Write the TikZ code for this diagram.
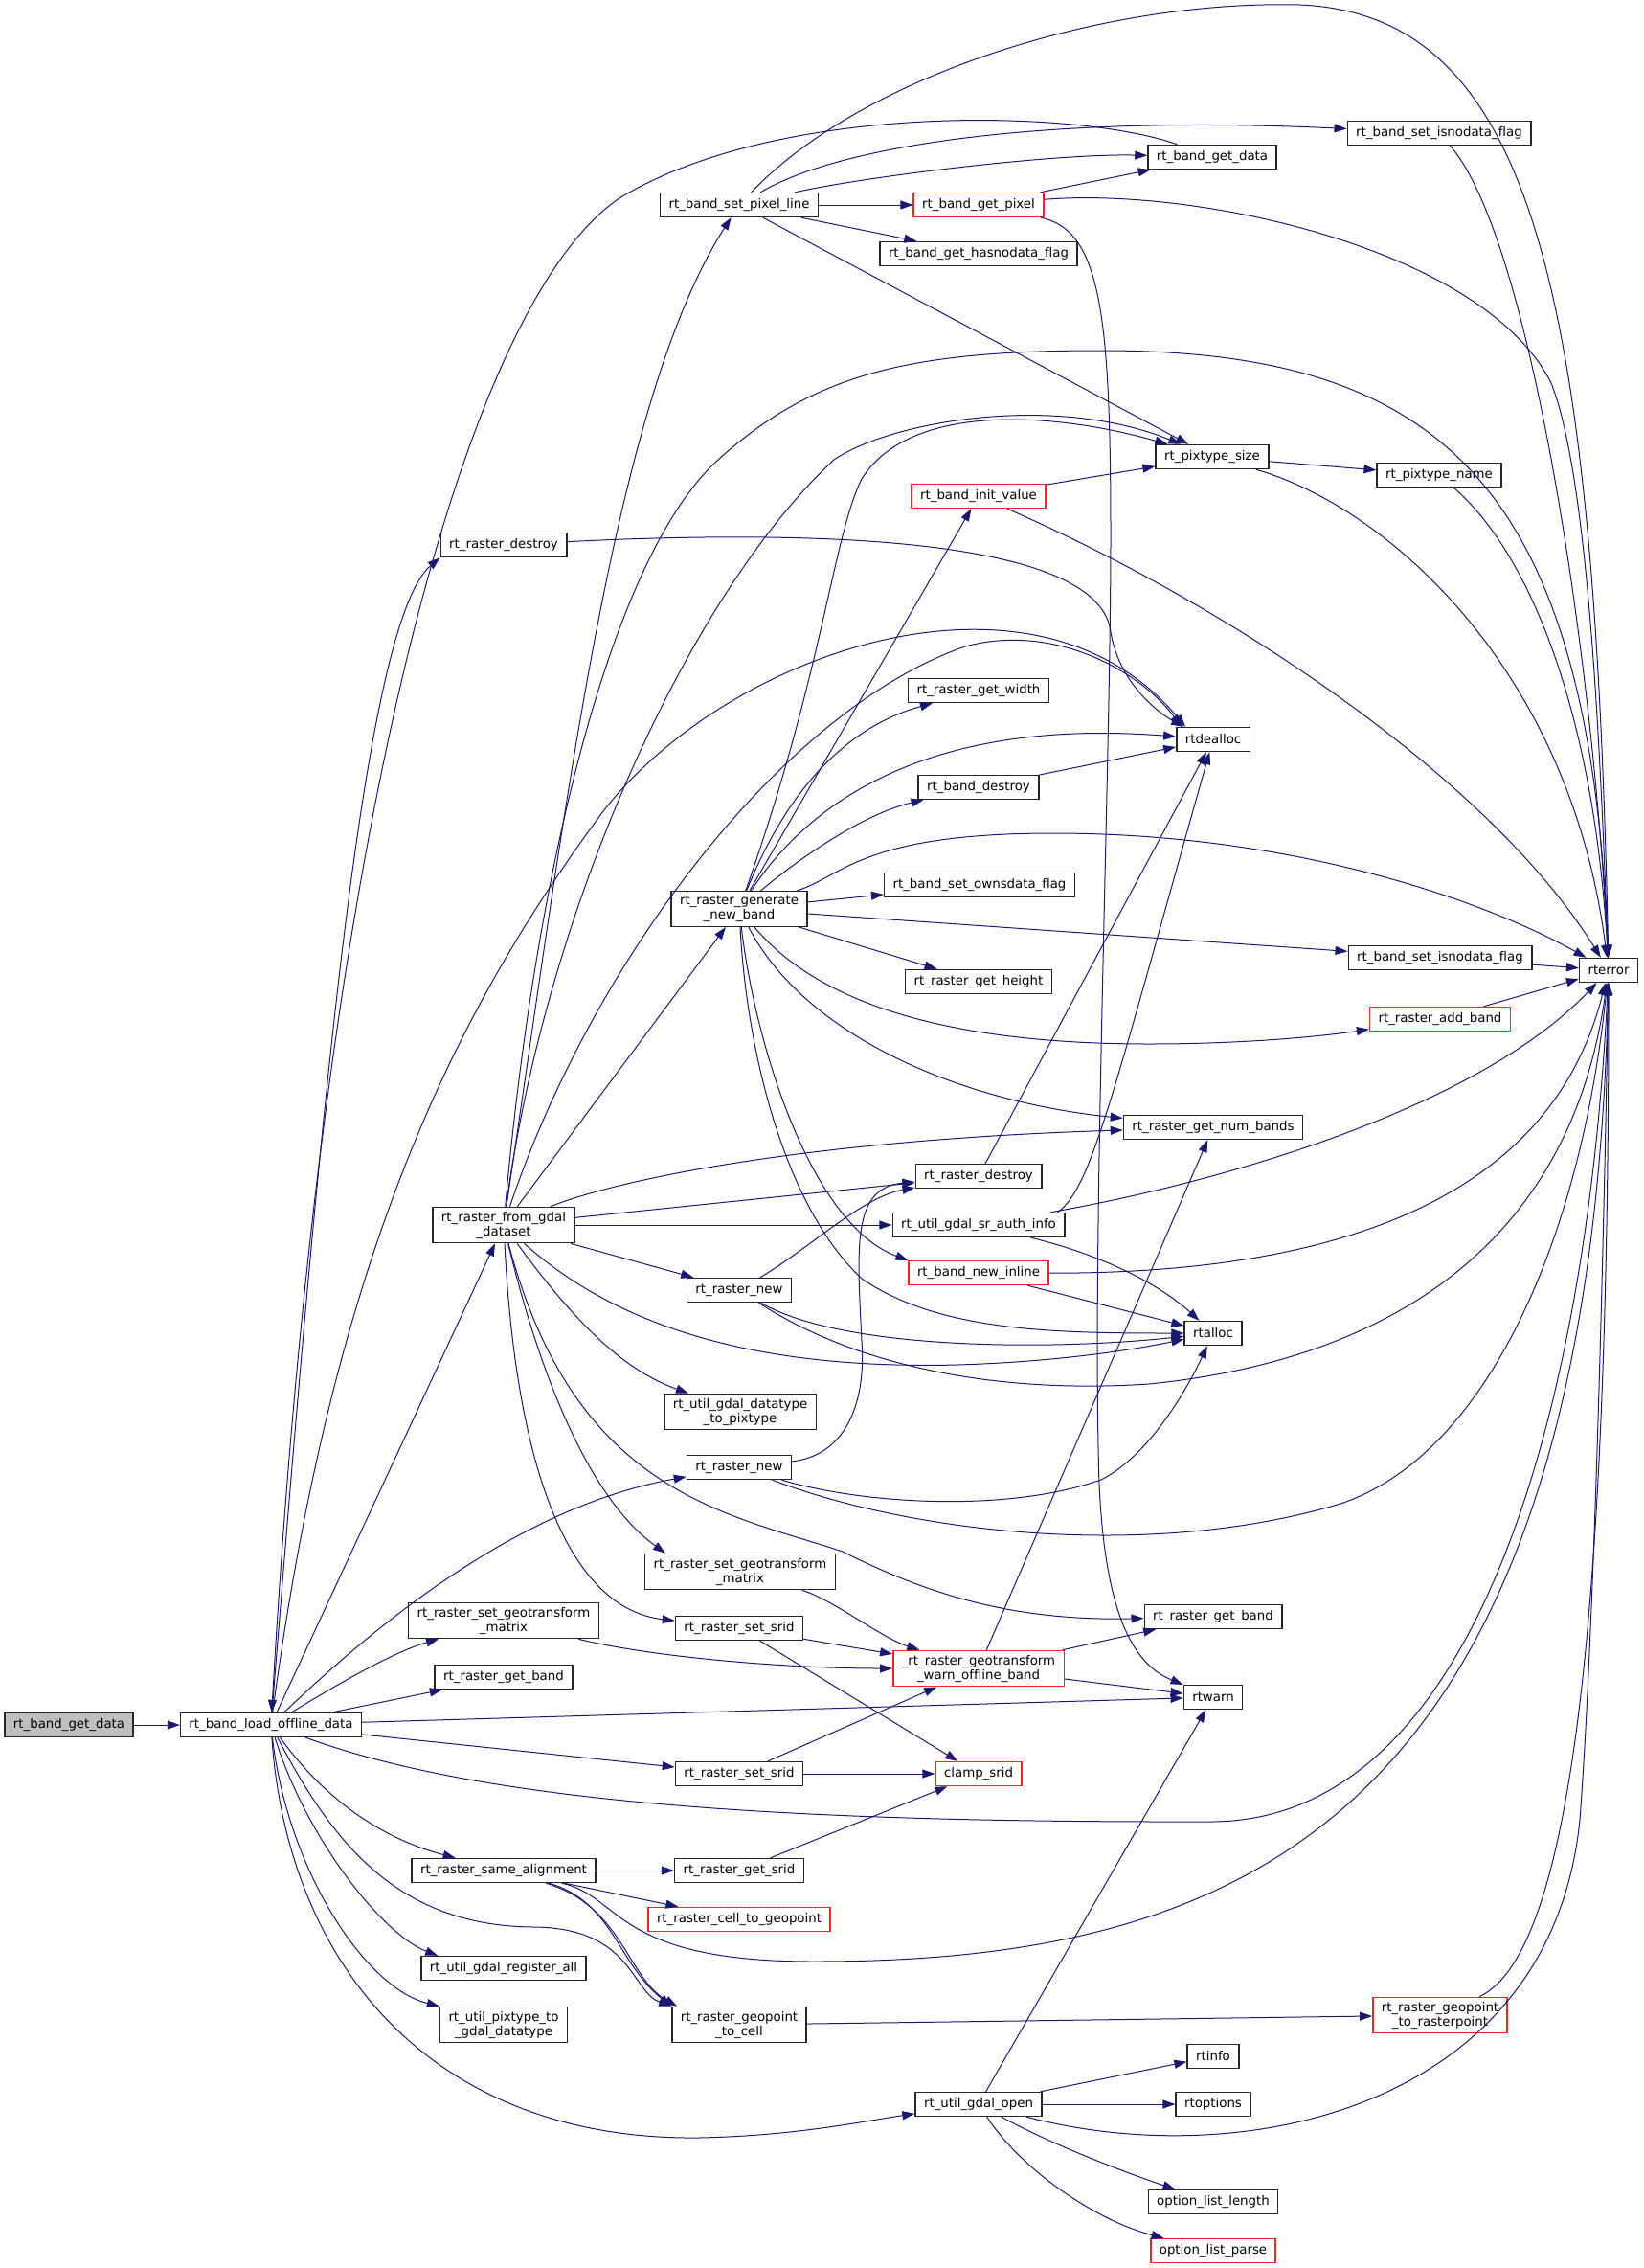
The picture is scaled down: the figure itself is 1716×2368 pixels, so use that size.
\documentclass[tikz,border=0pt]{standalone}
\usepackage{fontspec}
\setmainfont{DejaVu Sans}[Ligatures=NoCommon]
\usepackage{tikz}
\usetikzlibrary{arrows.meta,positioning}
\definecolor{edgeblue}{HTML}{191970}
\definecolor{nodered}{HTML}{FF2020}

\begin{document}
\begin{tikzpicture}[x=1pt,y=-1pt,
  fn/.style={draw=black!85, line width=1.4pt, fill=white, font=\fontsize{13.33}{15}\selectfont, minimum height=25pt, inner xsep=9pt, inner ysep=4.5pt, align=center},
  fnred/.style={fn, draw=nodered},
  fnroot/.style={fn, fill=black!25},
  call/.style={draw=edgeblue, line width=1pt, -{Triangle[length=13pt,width=9pt]}}]
\fill[white] (0,0) rectangle (1716,2368);
\useasboundingbox (0,0) rectangle (1716,2368);

\node (gd) at (72,1801) [fnroot] {rt\_band\_get\_data};
\node (lod) at (283,1801) [fn] {rt\_band\_load\_offline\_data};

\node (rdT) at (526,569) [fn] {rt\_raster\_destroy};
\node (fg) at (526,1279) [fn] {rt\_raster\_from\_gdal\\\_dataset};
\node (sgb) at (526,1692) [fn] {rt\_raster\_set\_geotransform\\\_matrix};
\node (gbA) at (526,1751) [fn] {rt\_raster\_get\_band};
\node (sa) at (526,1953) [fn] {rt\_raster\_same\_alignment};
\node (reg) at (526,2055) [fn] {rt\_util\_gdal\_register\_all};
\node (p2g) at (526,2114) [fn] {rt\_util\_pixtype\_to\\\_gdal\_datatype};

\node (spl) at (772,214) [fn] {rt\_band\_set\_pixel\_line};
\node (gnb) at (772,949) [fn] {rt\_raster\_generate\\\_new\_band};
\node (rnA) at (772,1347) [fn] {rt\_raster\_new};
\node (d2p) at (773,1474) [fn] {rt\_util\_gdal\_datatype\\\_to\_pixtype};
\node (rnB) at (772,1532) [fn] {rt\_raster\_new};
\node (sgA) at (773,1641) [fn] {rt\_raster\_set\_geotransform\\\_matrix};
\node (ssA) at (772,1700) [fn] {rt\_raster\_set\_srid};
\node (ssB) at (772,1852) [fn] {rt\_raster\_set\_srid};
\node (gs) at (772,1953) [fn] {rt\_raster\_get\_srid};
\node (c2g) at (772,2004) [fnred] {rt\_raster\_cell\_to\_geopoint};
\node (g2c) at (772,2114) [fn] {rt\_raster\_geopoint\\\_to\_cell};

\node (gp) at (1022,214) [fnred] {rt\_band\_get\_pixel};
\node (ghn) at (1022,265) [fn] {rt\_band\_get\_hasnodata\_flag};
\node (biv) at (1022,518) [fnred] {rt\_band\_init\_value};
\node (gw) at (1022,721) [fn] {rt\_raster\_get\_width};
\node (bd) at (1022,822) [fn] {rt\_band\_destroy};
\node (sod) at (1023,924) [fn] {rt\_band\_set\_ownsdata\_flag};
\node (gh) at (1022,1025) [fn] {rt\_raster\_get\_height};
\node (rdM) at (1022,1228) [fn] {rt\_raster\_destroy};
\node (sai) at (1022,1279) [fn] {rt\_util\_gdal\_sr\_auth\_info};
\node (bni) at (1022,1329) [fnred] {rt\_band\_new\_inline};
\node (gtw) at (1022,1742) [fnred] {\_rt\_raster\_geotransform\\\_warn\_offline\_band};
\node (cs) at (1022,1852) [fnred] {clamp\_srid};
\node (go) at (1022,2197) [fn] {rt\_util\_gdal\_open};

\node (gdT) at (1266,164) [fn] {rt\_band\_get\_data};
\node (ps) at (1266,477) [fn] {rt\_pixtype\_size};
\node (rtd) at (1267,772) [fn] {rtdealloc};
\node (nb) at (1267,1177) [fn] {rt\_raster\_get\_num\_bands};
\node (ra) at (1267,1392) [fn] {rtalloc};
\node (gbB) at (1267,1688) [fn] {rt\_raster\_get\_band};
\node (rw) at (1267,1772) [fn] {rtwarn};
\node (ri) at (1267,2147) [fn] {rtinfo};
\node (ro) at (1267,2197) [fn] {rtoptions};
\node (oll) at (1267,2299) [fn] {option\_list\_length};
\node (olp) at (1267,2350) [fnred] {option\_list\_parse};

\node (sinT) at (1503,139) [fn] {rt\_band\_set\_isnodata\_flag};
\node (pn) at (1503,496) [fn] {rt\_pixtype\_name};
\node (sinM) at (1504,1000) [fn] {rt\_band\_set\_isnodata\_flag};
\node (rab) at (1504,1064) [fnred] {rt\_raster\_add\_band};
\node (g2r) at (1504,2104) [fnred] {rt\_raster\_geopoint\\\_to\_rasterpoint};
\node (err) at (1680,1013) [fn] {rterror};

% root
\draw[call] (gd) -- (lod);
% rt_band_load_offline_data
\draw[call] (lod) .. controls (335,1150) and (380,650) .. (rdT.south west);
\draw[call] (lod) .. controls (350,1300) and (480,1050) .. (630,847) .. controls (760,680) and (1080,570) .. ([xshift=10pt]rtd.north west);
\draw[call] (lod) -- (fg);
\draw[call] (lod) .. controls (420,1670) and (560,1570) .. (rnB);
\draw[call] (lod) .. controls (350,1760) and (410,1725) .. (sgb);
\draw[call] (lod) -- (gbA);
\draw[call] (lod) -- (rw);
\draw[call] (lod) -- (ssB);
\draw[call] (lod) .. controls (500,1880) and (800,1903) .. (1264,1902) .. controls (1560,1902) and (1660,1420) .. (err);
\draw[call] (lod) .. controls (340,1880) and (400,1920) .. (sa);
\draw[call] (lod) .. controls (320,1920) and (400,2020) .. ([xshift=18pt]reg.north west);
\draw[call] (lod) .. controls (300,1950) and (380,2075) .. (p2g.north west);
\draw[call] (lod) .. controls (350,1930) and (420,2012) .. (560,2012) .. controls (660,2014) and (660,2080) .. (g2c.north west);
\draw[call] (lod) .. controls (300,2050) and (450,2235) .. (730,2232) .. controls (830,2230) and (900,2215) .. (go);
% rt_raster_from_gdal_dataset
\draw[call] (fg) .. controls (590,850) and (640,420) .. (spl);
\draw[call] (fg) .. controls (560,900) and (640,580) .. (750,480) .. controls (850,390) and (950,366) .. (1150,366) .. controls (1500,366) and (1660,500) .. (err);
\draw[call] (fg) .. controls (570,950) and (720,620) .. (871,480) .. controls (930,440) and (1100,410) .. (ps);
\draw[call] (fg) .. controls (620,1000) and (820,740) .. (1008,675) .. controls (1100,650) and (1190,700) .. ([xshift=6pt]rtd.north west);
\draw[call] (fg) -- (gnb);
\draw[call] (fg) -- (rdM);
\draw[call] (fg) -- (sai);
\draw[call] (fg) .. controls (650,1230) and (850,1190) .. (nb);
\draw[call] (fg) -- (rnA);
\draw[call] (fg) .. controls (650,1390) and (800,1430) .. (1000,1425) .. controls (1100,1422) and (1180,1410) .. (ra);
\draw[call] (fg) .. controls (600,1380) and (650,1430) .. (d2p);
\draw[call] (fg) .. controls (560,1420) and (610,1560) .. ([xshift=22pt]sgA.north west);
\draw[call] (fg) .. controls (540,1550) and (600,1680) .. (ssA);
\draw[call] (fg) .. controls (600,1560) and (760,1580) .. (880,1620) .. controls (960,1660) and (1050,1693) .. (gbB);
% rt_band_set_pixel_line
\draw[call] (spl) -- (gp);
\draw[call] (spl) .. controls (900,185) and (1100,160) .. (gdT);
\draw[call] (spl) .. controls (880,150) and (1100,120) .. (sinT);
\draw[call] (spl) -- (ghn);
\draw[call] (spl) -- (ps);
\draw[call] (spl) .. controls (900,80) and (1150,0) .. (1357,5) .. controls (1600,15) and (1665,300) .. (err);
% rt_band_get_pixel
\draw[call] (gp) -- (gdT);
\draw[call] (gp) .. controls (1250,195) and (1550,260) .. (1620,400) .. controls (1660,500) and (1672,800) .. (err);
\draw[call] (gp) .. controls (1150,240) and (1160,330) .. (1160,560) .. controls (1160,800) and (1140,1300) .. (1148,1550) .. controls (1155,1700) and (1190,1740) .. (rw);
% rt_band_get_data again
\draw[call] (gdT) .. controls (1130,115) and (820,105) .. (650,205) .. controls (500,300) and (340,800) .. (lod);
% right column
\draw[call] (sinT) .. controls (1600,250) and (1665,700) .. (err);
\draw[call] (ps) -- (pn);
\draw[call] (ps) .. controls (1450,530) and (1640,700) .. (err);
\draw[call] (pn) .. controls (1600,580) and (1665,750) .. (err);
\draw[call] (biv) -- (ps);
\draw[call] (biv) .. controls (1300,640) and (1560,820) .. (err);
\draw[call] (rdT) .. controls (900,550) and (1150,570) .. (1160,660) .. controls (1170,720) and (1220,750) .. ([xshift=8pt]rtd.north west);
% rt_raster_generate_new_band
\draw[call] (gnb) -- (biv);
\draw[call] (gnb) .. controls (860,700) and (870,560) .. (900,500) .. controls (950,420) and (1100,430) .. (ps);
\draw[call] (gnb) .. controls (820,830) and (880,760) .. (gw);
\draw[call] (gnb) .. controls (850,830) and (980,750) .. (rtd);
\draw[call] (gnb) .. controls (830,900) and (900,850) .. (bd);
\draw[call] (gnb) .. controls (880,915) and (900,870) .. (1100,870) .. controls (1350,870) and (1550,940) .. (err);
\draw[call] (gnb) -- (sod);
\draw[call] (gnb) -- (sinM);
\draw[call] (gnb) -- (gh);
\draw[call] (gnb) .. controls (840,1030) and (950,1090) .. (1200,1090) .. controls (1300,1090) and (1380,1082) .. (rab);
\draw[call] (gnb) .. controls (840,1080) and (1000,1150) .. (nb);
\draw[call] (gnb) .. controls (790,1100) and (850,1280) .. (bni.north west);
\draw[call] (gnb) .. controls (780,1100) and (820,1260) .. (900,1335) .. controls (980,1390) and (1100,1392) .. (ra);
% middle
\draw[call] (bd) -- (rtd);
\draw[call] (rdM) -- (rtd);
\draw[call] ([xshift=-8pt]sai.north east) .. controls (1140,1240) and (1160,1150) .. (rtd);
\draw[call] (sai) .. controls (1150,1310) and (1210,1340) .. (ra);
\draw[call] (sai) .. controls (1300,1230) and (1550,1150) .. (err);
\draw[call] (bni) -- (ra);
\draw[call] (bni) .. controls (1400,1330) and (1620,1250) .. (err);
\draw[call] (rnA) .. controls (850,1300) and (900,1250) .. (rdM);
\draw[call] (rnA) .. controls (880,1410) and (1100,1410) .. (ra);
\draw[call] (rnA) .. controls (900,1430) and (1050,1455) .. (1200,1445) .. controls (1450,1420) and (1640,1300) .. (err);
\draw[call] (rnB) .. controls (880,1520) and (905,1470) .. (900,1400) .. controls (895,1300) and (890,1240) .. (rdM);
\draw[call] (rnB) .. controls (900,1570) and (1050,1580) .. (1150,1545) .. controls (1200,1520) and (1240,1450) .. (ra);
\draw[call] (rnB) .. controls (950,1600) and (1200,1630) .. (1400,1570) .. controls (1550,1520) and (1650,1300) .. (err);
\draw[call] (sgA) .. controls (870,1670) and (920,1710) .. (gtw);
\draw[call] (ssA) -- (gtw);
\draw[call] (ssA) -- (cs);
\draw[call] (sgb) .. controls (680,1730) and (820,1742) .. (gtw);
\draw[call] (ssB) -- (gtw);
\draw[call] (ssB) -- (cs);
% rt_raster_same_alignment
\draw[call] (sa) -- (gs);
\draw[call] (sa) -- (c2g);
\draw[call] (sa) .. controls (640,1985) and (645,2050) .. (g2c.north west);
\draw[call] (sa) .. controls (650,1990) and (655,2065) .. ([xshift=6pt]g2c.north west);
\draw[call] (sa) .. controls (650,1980) and (640,2048) .. (850,2048) .. controls (1300,2048) and (1660,1900) .. (err);
\draw[call] (gs) -- (cs);
\draw[call] (g2c) -- (g2r);
\draw[call] (g2r) .. controls (1640,2040) and (1680,1700) .. (err);
% _rt_raster_geotransform_warn_offline_band
\draw[call] (gtw) -- (nb);
\draw[call] (gtw) -- (gbB);
\draw[call] (gtw) -- (rw);
% rt_util_gdal_open
\draw[call] (go) -- (rw);
\draw[call] (go) -- (ri);
\draw[call] (go) -- (ro);
\draw[call] (go) .. controls (1100,2240) and (1180,2270) .. (oll);
\draw[call] (go) .. controls (1070,2270) and (1150,2320) .. (olp);
\draw[call] (go) .. controls (1300,2270) and (1620,2200) .. (1650,1900) .. controls (1665,1700) and (1675,1300) .. (err);
\draw[call] (sinM) -- (err);
\draw[call] (rab) -- (err);
\end{tikzpicture}
\end{document}
